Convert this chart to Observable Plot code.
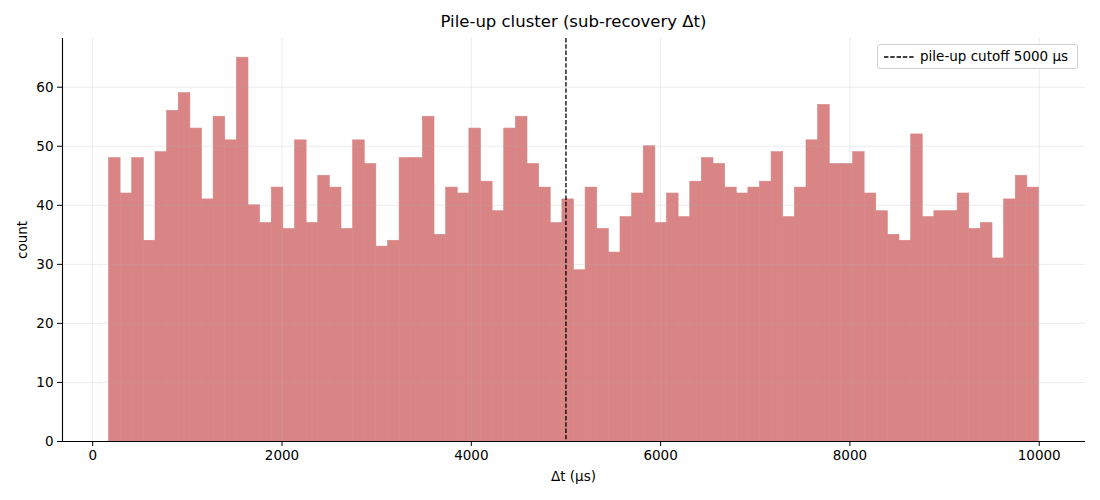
<!DOCTYPE html>
<html><head><meta charset="utf-8">
<script src="https://cdn.jsdelivr.net/npm/d3@7"></script>
<script src="https://cdn.jsdelivr.net/npm/@observablehq/plot@0.6"></script>
<style>
body{margin:0;background:#fff;font-family:"DejaVu Sans",sans-serif;}
#wrap{position:relative;width:1100px;height:500px;overflow:hidden;}
#title{position:absolute;top:12px;left:62px;width:1023px;text-align:center;font-size:16.5px;color:#000;}
#xlabel{position:absolute;top:468px;left:62px;width:1023px;text-align:center;font-size:13.5px;}
#ylabel{position:absolute;left:22px;top:240px;font-size:13.5px;transform:translate(-50%,-50%) rotate(-90deg);white-space:nowrap;}
#legend{position:absolute;left:877px;top:44px;width:201px;height:25px;box-sizing:border-box;border:1px solid #d0d0d0;border-radius:3px;background:rgba(255,255,255,0.85);font-size:13.5px;}
#legend svg{position:absolute;left:5px;top:6px;}
#legend span{position:absolute;left:42px;top:3px;white-space:nowrap;}
</style></head>
<body>
<div id="wrap">
  <div id="chart"></div>
  <div id="title">Pile-up cluster (sub-recovery Δt)</div>
  <div id="xlabel">Δt (μs)</div>
  <div id="ylabel">count</div>
  <div id="legend"><svg width="32" height="12"><line x1="1" y1="6" x2="31" y2="6" stroke="#000" stroke-width="1.3" stroke-dasharray="4.4,1.9"/></svg><span>pile-up cutoff 5000 μs</span></div>
</div>
<script>
// histogram bin counts (80 bins)
const counts = [48,42,48,34,49,56,59,53,41,55,51,65,40,37,43,36,51,37,45,43,
  36,51,47,33,34,48,48,55,35,43,42,53,44,39,53,55,47,43,37,41,
  29,43,36,32,38,42,50,37,42,38,44,48,47,43,42,43,44,49,38,43,
  51,57,47,47,49,42,39,35,34,52,38,39,39,42,36,37,31,41,45,43];
const binStart = 172;
const binEnd = 9998;
const cutoff = 5000;
const xTicks = [0,2000,4000,6000,8000,10000];
const yTicks = [0,10,20,30,40,50,60];

const binWidth = (binEnd - binStart) / counts.length;
const bins = counts.map((c, i) => ({x1: binStart + i*binWidth, x2: binStart + (i+1)*binWidth, count: c}));
const span = binEnd - binStart;
const xDomain = [binStart - 0.05*span, binEnd + 0.05*span];
const yDomain = [0, d3.max(counts)*1.05];

const plot = Plot.plot({
  width: 1100, height: 500,
  marginLeft: 62, marginRight: 15, marginTop: 38, marginBottom: 59,
  style: {fontFamily: '"DejaVu Sans", sans-serif', fontSize: "13.5px", color: "#000", background: "#fff"},
  x: {domain: xDomain},
  y: {domain: yDomain},
  marks: [
    Plot.rectY(bins, {x1: "x1", x2: "x2", y: "count", fill: "#d98585", stroke: "#d98585", strokeWidth: 0.6, inset: 0}),
    Plot.gridX(xTicks, {stroke: "#b0b0b0", strokeOpacity: 0.3, strokeWidth: 0.8}),
    Plot.gridY(yTicks, {stroke: "#b0b0b0", strokeOpacity: 0.3, strokeWidth: 0.8}),
    Plot.ruleX([cutoff], {stroke: "#000", strokeWidth: 1.3, strokeDasharray: "4.4,1.9"}),
    Plot.ruleX([xDomain[0]], {stroke: "#000", strokeWidth: 1.1}),
    Plot.ruleY([0], {stroke: "#000", strokeWidth: 1.1}),
    Plot.axisX(xTicks, {tickSize: 5, tickPadding: 4, tickFormat: d3.format("d"), label: null, fontSize: "13.5px"}),
    Plot.axisY(yTicks, {tickSize: 5, tickPadding: 4, tickFormat: d3.format("d"), label: null, fontSize: "13.5px"})
  ]
});
document.getElementById("chart").appendChild(plot);
</script>
</body></html>
